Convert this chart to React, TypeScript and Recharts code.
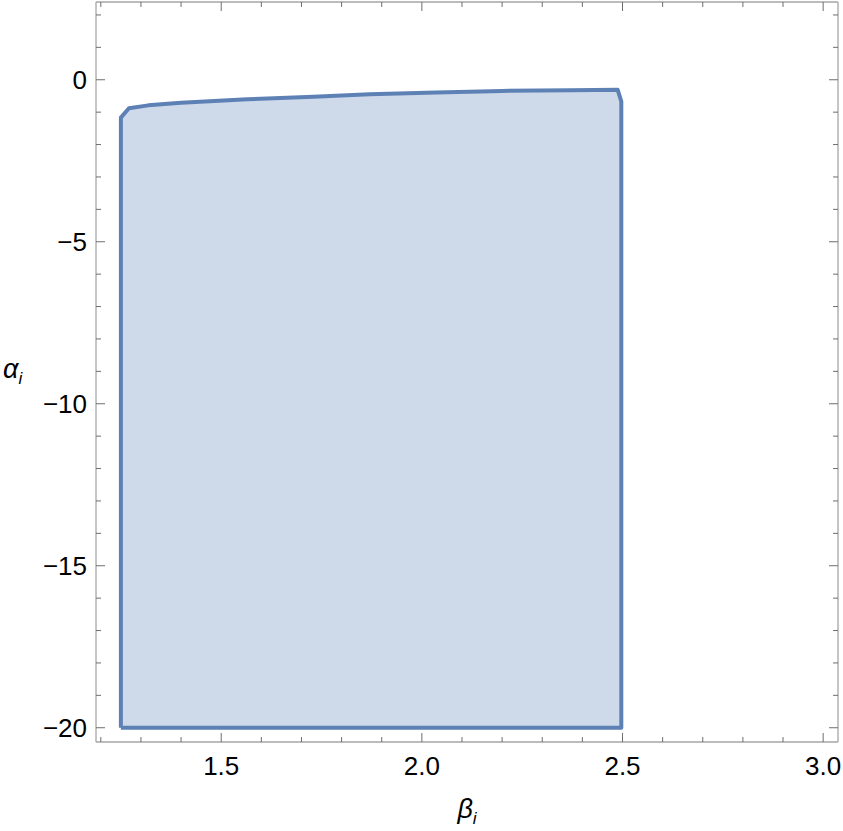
import React from 'react';
import { ComposedChart, Area, Line, XAxis, YAxis, Label } from 'recharts';

// boundary of the region (beta, alpha), walked clockwise from bottom-left
const betaPts = [1.25, 1.25, 1.27, 1.318, 1.4, 1.565, 1.73, 1.87, 2.035, 2.2, 2.37, 2.488, 2.497, 2.497];
const alphaPts = [-20, -1.17, -0.88, -0.79, -0.71, -0.6, -0.525, -0.45, -0.39, -0.345, -0.32, -0.31, -0.67, -20];

const xTicks = [1.2, 1.3, 1.4, 1.5, 1.6, 1.7, 1.8, 1.9, 2.0, 2.1, 2.2, 2.3, 2.4, 2.5, 2.6, 2.7, 2.8, 2.9, 3.0];
const xMajor = [1.5, 2.0, 2.5, 3.0];
const yTicks = [-20, -19, -18, -17, -16, -15, -14, -13, -12, -11, -10, -9, -8, -7, -6, -5, -4, -3, -2, -1, 0, 1, 2];
const yMajor = [-20, -15, -10, -5, 0];

const xDomain: [number, number] = [1.188, 3.037];
const yDomain: [number, number] = [-20.44, 2.4];

const edge = '#5e81b5';
const fill = '#5e81b5';
const frame = '#a6a6a6';
const tickColor = '#6e6e6e';
const font = '"Liberation Sans", Arial, sans-serif';

const region = betaPts.map((b, i) => ({ b, a: alphaPts[i] }));
const outline = [...region, region[0]];

const isMajor = (list: number[], v: number) => list.some((m) => Math.abs(m - v) < 1e-6);
const fmt = (v: number) => (v < 0 ? '\u2212' + Math.abs(v) : String(v));

function BottomTick(props: any) {
  const { x, y, payload } = props;
  const major = isMajor(xMajor, payload.value);
  return (
    <g>
      <line x1={x} x2={x} y1={y} y2={y - (major ? 9 : 5)} stroke={tickColor} strokeWidth={1} />
      {major && (
        <text x={x} y={y + 33} textAnchor="middle" fontSize={26} fontFamily={font} fill="#000">
          {payload.value.toFixed(1)}
        </text>
      )}
    </g>
  );
}

function TopTick(props: any) {
  const { x, y, payload } = props;
  const major = isMajor(xMajor, payload.value);
  return <line x1={x} x2={x} y1={y} y2={y + (major ? 9 : 5)} stroke={tickColor} strokeWidth={1} />;
}

function LeftTick(props: any) {
  const { x, y, payload } = props;
  const major = isMajor(yMajor, payload.value);
  return (
    <g>
      <line x1={x} x2={x + (major ? 9 : 5)} y1={y} y2={y} stroke={tickColor} strokeWidth={1} />
      {major && (
        <text x={x - 9} y={y + 9.5} textAnchor="end" fontSize={26} fontFamily={font} fill="#000">
          {fmt(payload.value)}
        </text>
      )}
    </g>
  );
}

function RightTick(props: any) {
  const { x, y, payload } = props;
  const major = isMajor(yMajor, payload.value);
  return <line x1={x} x2={x - (major ? 9 : 5)} y1={y} y2={y} stroke={tickColor} strokeWidth={1} />;
}

export default function App() {
  return (
    <div style={{ position: 'absolute', left: 0, top: 0 }}>
      <ComposedChart width={843} height={831} data={region} margin={{ top: 0, right: 0, bottom: 0, left: 0 }}>
        <XAxis
          xAxisId="b"
          type="number"
          dataKey="b"
          domain={xDomain}
          allowDataOverflow
          ticks={xTicks}
          interval={0}
          height={89}
          tickLine={false}
          tickSize={0}
          tickMargin={0}
          axisLine={{ stroke: frame, strokeWidth: 1.3 }}
          tick={<BottomTick />}
        >
          <Label
            content={(p: any) => {
              const vb = p.viewBox;
              return (
                <text x={vb.x + vb.width / 2} y={vb.y + 76} textAnchor="middle" fontSize={27} fontStyle="italic" fontFamily={font} fill="#000">
                  β<tspan fontSize={17} dy={6}>i</tspan>
                </text>
              );
            }}
          />
        </XAxis>
        <XAxis
          xAxisId="t"
          orientation="top"
          type="number"
          dataKey="b"
          domain={xDomain}
          allowDataOverflow
          ticks={xTicks}
          interval={0}
          height={2}
          tickLine={false}
          tickSize={0}
          tickMargin={0}
          axisLine={{ stroke: frame, strokeWidth: 1.3 }}
          tick={<TopTick />}
        />
        <YAxis
          yAxisId="l"
          type="number"
          domain={yDomain}
          allowDataOverflow
          ticks={yTicks}
          interval={0}
          width={96}
          tickLine={false}
          tickSize={0}
          tickMargin={0}
          axisLine={{ stroke: frame, strokeWidth: 1.3 }}
          tick={<LeftTick />}
        >
          <Label
            content={(p: any) => {
              const vb = p.viewBox;
              return (
                <text x={3} y={vb.y + vb.height / 2 + 6} textAnchor="start" fontSize={27} fontStyle="italic" fontFamily={font} fill="#000">
                  α<tspan fontSize={17} dy={6}>i</tspan>
                </text>
              );
            }}
          />
        </YAxis>
        <YAxis
          yAxisId="r"
          orientation="right"
          type="number"
          domain={yDomain}
          allowDataOverflow
          ticks={yTicks}
          interval={0}
          width={5}
          tickLine={false}
          tickSize={0}
          tickMargin={0}
          axisLine={{ stroke: frame, strokeWidth: 1.3 }}
          tick={<RightTick />}
        />
        <Area
          xAxisId="b"
          yAxisId="l"
          dataKey="a"
          type="linear"
          baseValue={-20}
          fill={fill}
          fillOpacity={0.3}
          stroke="none"
          isAnimationActive={false}
        />
        <Line
          xAxisId="b"
          yAxisId="l"
          data={outline}
          dataKey="a"
          type="linear"
          stroke={edge}
          strokeWidth={4}
          strokeLinejoin="round"
          dot={false}
          activeDot={false}
          isAnimationActive={false}
        />
        <Line
          xAxisId="t"
          yAxisId="r"
          data={outline}
          dataKey="a"
          stroke="none"
          dot={false}
          activeDot={false}
          isAnimationActive={false}
        />
      </ComposedChart>
    </div>
  );
}
